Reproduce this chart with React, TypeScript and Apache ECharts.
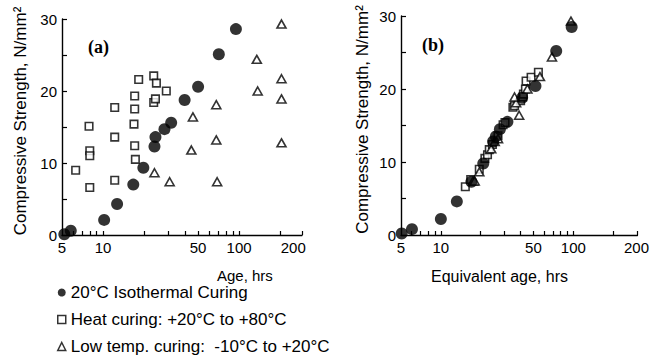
import React, { useEffect, useRef } from "react";
import * as echarts from "echarts";

// Panel (a): actual age (hrs) vs compressive strength (N/mm²)
const isoAgeA = [5.2, 5.8, 10.2, 12.7, 16.7, 19.8, 23.9, 24.3, 28.3, 31.7, 39.8, 50, 71, 94.8];
const isoValA = [0.1, 0.6, 2.1, 4.3, 7.0, 9.35, 12.3, 13.6, 14.7, 15.6, 18.75, 20.6, 25.1, 28.6];

const heatAgeA = [6.3, 7.9, 8.0, 8.0, 8.0, 12.2, 12.2, 12.2, 17.1, 17.1, 16.9, 17.1, 17.3, 18.3, 23.6, 24.7, 23.6, 24.3, 29.2];
const heatValA = [9.0, 15.1, 11.7, 11.0, 6.6, 17.7, 13.6, 7.6, 19.3, 17.5, 15.4, 12.4, 10.5, 21.6, 22.1, 21.1, 18.4, 18.9, 20.0];

const lowAgeA = [205, 205, 205, 205, 135, 137, 68, 68, 69, 45.8, 44.6, 30.9, 23.9];
const lowValA = [29.3, 21.7, 18.9, 12.8, 24.4, 20.0, 18.1, 13.2, 7.4, 16.4, 11.8, 7.4, 8.65];

// Panel (b): equivalent age (hrs) vs compressive strength
const isoAgeB = [5.06, 6.05, 10.0, 13.2, 17.0, 20.9, 24.8, 26.0, 27.9, 31.8, 41.1, 51.8, 74.3, 97.2];
const isoValB = [0.2, 0.8, 2.2, 4.6, 7.3, 9.8, 12.8, 13.5, 14.5, 15.5, 18.8, 20.4, 25.2, 28.5];

const heatAgeB = [15.3, 16.8, 19.5, 21.5, 22.5, 23.2, 24.5, 27.0, 29.5, 30.5, 35.0, 36.0, 40.0, 41.5, 42.0, 43.5, 44.0, 48.0, 54.5];
const heatValB = [6.6, 7.6, 9.0, 10.5, 11.0, 11.7, 12.4, 13.6, 15.1, 15.4, 17.5, 17.7, 18.4, 18.9, 19.3, 20.0, 21.1, 21.6, 22.3];

const lowAgeB = [17.5, 18.0, 19.5, 24.0, 25.5, 27.0, 39.0, 37.0, 36.0, 45.0, 56.0, 69.0, 96.0];
const lowValB = [7.4, 7.4, 8.65, 11.8, 12.8, 13.2, 16.4, 18.1, 18.9, 20.0, 21.7, 24.4, 29.3];

const seriesNames = [
  "20°C Isothermal Curing",
  "Heat curing: +20°C to +80°C",
  "Low temp. curing:  -10°C to +20°C",
];

const xTickValues = [6, 7, 8, 9, 10, 20, 30, 40, 50, 60, 70, 80, 90, 100, 200];
const xLabelValues = [5, 10, 50, 100];
const yLabelStep = 10;

const FONT = "'Liberation Sans', Arial, Helvetica, sans-serif";

function pts(ages: number[], vals: number[]) {
  return ages.map((a, i) => [Math.log10(a), vals[i]]);
}

export default function App() {
  const ref = useRef<HTMLDivElement>(null);
  useEffect(() => {
    if (!ref.current) return;
    const chart = echarts.init(ref.current, null, { renderer: "svg" });

    const makeX = (idx: number, maxAge: number, label200At: number) => {
      const lv = [...xLabelValues.map((v) => Math.log10(v)), Math.log10(label200At)];
      return {
        type: "value",
        gridIndex: idx,
        min: Math.log10(5),
        max: Math.log10(maxAge),
        splitLine: { show: false },
        axisLine: { onZero: false, lineStyle: { color: "#000", width: 1.4 } },
        axisTick: {
          inside: true,
          length: 4,
          lineStyle: { color: "#000", width: 1.2 },
          customValues: [...xTickValues, maxAge].map((v) => Math.log10(v)),
        },
        axisLabel: {
          color: "#000",
          fontFamily: FONT,
          fontSize: 15,
          margin: 5,
          customValues: lv,
          formatter: (v: number) => {
            const a = Math.pow(10, v);
            if (a > 150) return "200";
            return String(Math.round(a));
          },
        },
      };
    };

    const makeY = (idx: number, gap: number) => ({
      type: "value",
      gridIndex: idx,
      min: 0,
      max: 30,
      interval: 5,
      name: "Compressive Strength, N/mm²",
      nameLocation: "middle",
      nameGap: gap,
      nameTextStyle: { color: "#000", fontFamily: FONT, fontSize: 17, padding: [0, 0, 0, 12] },
      splitLine: { show: false },
      axisLine: { show: true, lineStyle: { color: "#000", width: 1.4 } },
      axisTick: { inside: true, length: 5, lineStyle: { color: "#000", width: 1.2 } },
      axisLabel: {
        color: "#000",
        fontFamily: FONT,
        fontSize: 15,
        margin: 5,
        formatter: (v: number) => (v % yLabelStep === 0 ? String(v) : ""),
      },
    });

    const circleStyle = { color: "#000" };
    const openStyle = { color: "#fff", borderColor: "#000", borderWidth: 1.6 };

    const mk = (panel: number, kind: number, data: number[][]) => {
      const base: any = {
        type: "scatter",
        name: seriesNames[kind],
        xAxisIndex: panel,
        yAxisIndex: panel,
        data,
      };
      if (kind === 0) {
        base.symbol = "circle";
        base.symbolSize = 12;
        base.itemStyle = circleStyle;
        base.z = 4;
      } else if (kind === 1) {
        base.symbol = "rect";
        base.symbolSize = 7.5;
        base.itemStyle = openStyle;
        base.z = 2;
      } else {
        base.symbol = "triangle";
        base.symbolSize = [9, 8];
        base.itemStyle = openStyle;
        base.z = 3;
      }
      return base;
    };

    chart.setOption({
      animation: false,
      backgroundColor: "#fff",
      grid: [
        { left: 62, top: 19, width: 240, height: 216 },
        { left: 401, top: 16, width: 239, height: 219 },
      ],
      xAxis: [makeX(0, 290, 250), makeX(1, 305, 300)],
      yAxis: [makeY(0, 33), makeY(1, 30)],
      legend: {
        orient: "vertical",
        left: 57,
        top: 284,
        padding: 0,
        itemWidth: 8,
        itemHeight: 8,
        itemGap: 10,
        textStyle: { color: "#000", fontFamily: FONT, fontSize: 17 },
        data: [
          { name: seriesNames[0], icon: "circle", itemStyle: { color: "#000", borderWidth: 0 } },
          { name: seriesNames[1], icon: "rect", itemStyle: { color: "#fff", borderColor: "#000", borderWidth: 1.5 } },
          { name: seriesNames[2], icon: "triangle", itemStyle: { color: "#fff", borderColor: "#000", borderWidth: 1.5 } },
        ],
      },
      graphic: [
        { type: "text", left: 88, top: 38, style: { text: "(a)", fill: "#000", font: "bold 18px 'Liberation Serif', 'Times New Roman', serif" } },
        { type: "text", left: 422, top: 36, style: { text: "(b)", fill: "#000", font: "bold 18px 'Liberation Serif', 'Times New Roman', serif" } },
        { type: "text", left: 217, top: 268, style: { text: "Age, hrs", fill: "#000", font: `15px ${FONT}` } },
        { type: "text", left: 431, top: 268, style: { text: "Equivalent age, hrs", fill: "#000", font: `16px ${FONT}` } },
      ],
      series: [
        mk(0, 1, pts(heatAgeA, heatValA)),
        mk(0, 2, pts(lowAgeA, lowValA)),
        mk(0, 0, pts(isoAgeA, isoValA)),
        mk(1, 1, pts(heatAgeB, heatValB)),
        mk(1, 2, pts(lowAgeB, lowValB)),
        mk(1, 0, pts(isoAgeB, isoValB)),
      ],
    });
    return () => chart.dispose();
  }, []);
  return (
    <div
      ref={ref}
      style={{ position: "fixed", left: 0, top: 0, width: 652, height: 362, background: "#fff" }}
    />
  );
}
